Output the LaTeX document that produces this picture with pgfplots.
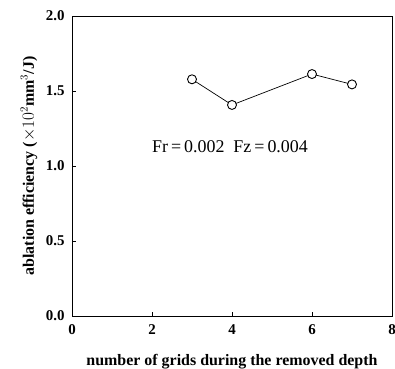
\documentclass[border=0pt]{standalone}
\usepackage{pgfplots}
\pgfplotsset{compat=1.18}
\usepackage{fontspec}
\setmainfont{Liberation Serif}
\begin{document}
\begin{tikzpicture}
\begin{axis}[
  name=ax,
  scale only axis,
  width=320bp, height=300bp,
  xmin=0, xmax=8, ymin=0, ymax=2,
  xtick={0,2,4,6,8}, ytick={0,0.5,1,1.5,2},
  axis line style={line width=1pt},
  tick style={black, line width=0.6pt},
  tick align=inside,
  xtick pos=bottom, ytick pos=left,
  major tick length=4bp,
  /pgf/number format/assume math mode=true,
  xticklabel style={font=\fontsize{15}{17}\selectfont\bfseries, yshift=-5bp},
  yticklabel style={font=\fontsize{15}{17}\selectfont\bfseries, xshift=-4bp, /pgf/number format/fixed, /pgf/number format/fixed zerofill, /pgf/number format/precision=1},
  xticklabel style={/pgf/number format/fixed},
  xlabel={number of grids during the removed depth},
  ylabel={ablation efficiency ($\times10^{2}$mm$^{3}$/J)},
  xlabel style={font=\fontsize{16}{18}\selectfont\bfseries, at={(axis description cs:0.5,0)}, anchor=center, yshift=-46bp},
  ylabel style={font=\fontsize{16}{18}\selectfont\bfseries, at={(axis description cs:0,0.5)}, anchor=center, yshift=43bp},
]
\addplot[black, line width=0.7pt, mark=*, mark size=4.5bp, mark options={fill=white, draw=black, line width=0.9pt}] coordinates {
(3,1.578) (4,1.407) (6,1.613) (7,1.544)
};
\node[font=\fontsize{18}{20}\selectfont] at (axis cs:3.95,1.13) {Fr\,=\,0.002\ \ Fz\,=\,0.004};
\end{axis}
\pgfresetboundingbox
\useasboundingbox ([xshift=-72bp,yshift=16bp]ax.north west) rectangle ([xshift=3bp,yshift=-52bp]ax.south east);
\end{tikzpicture}
\end{document}
